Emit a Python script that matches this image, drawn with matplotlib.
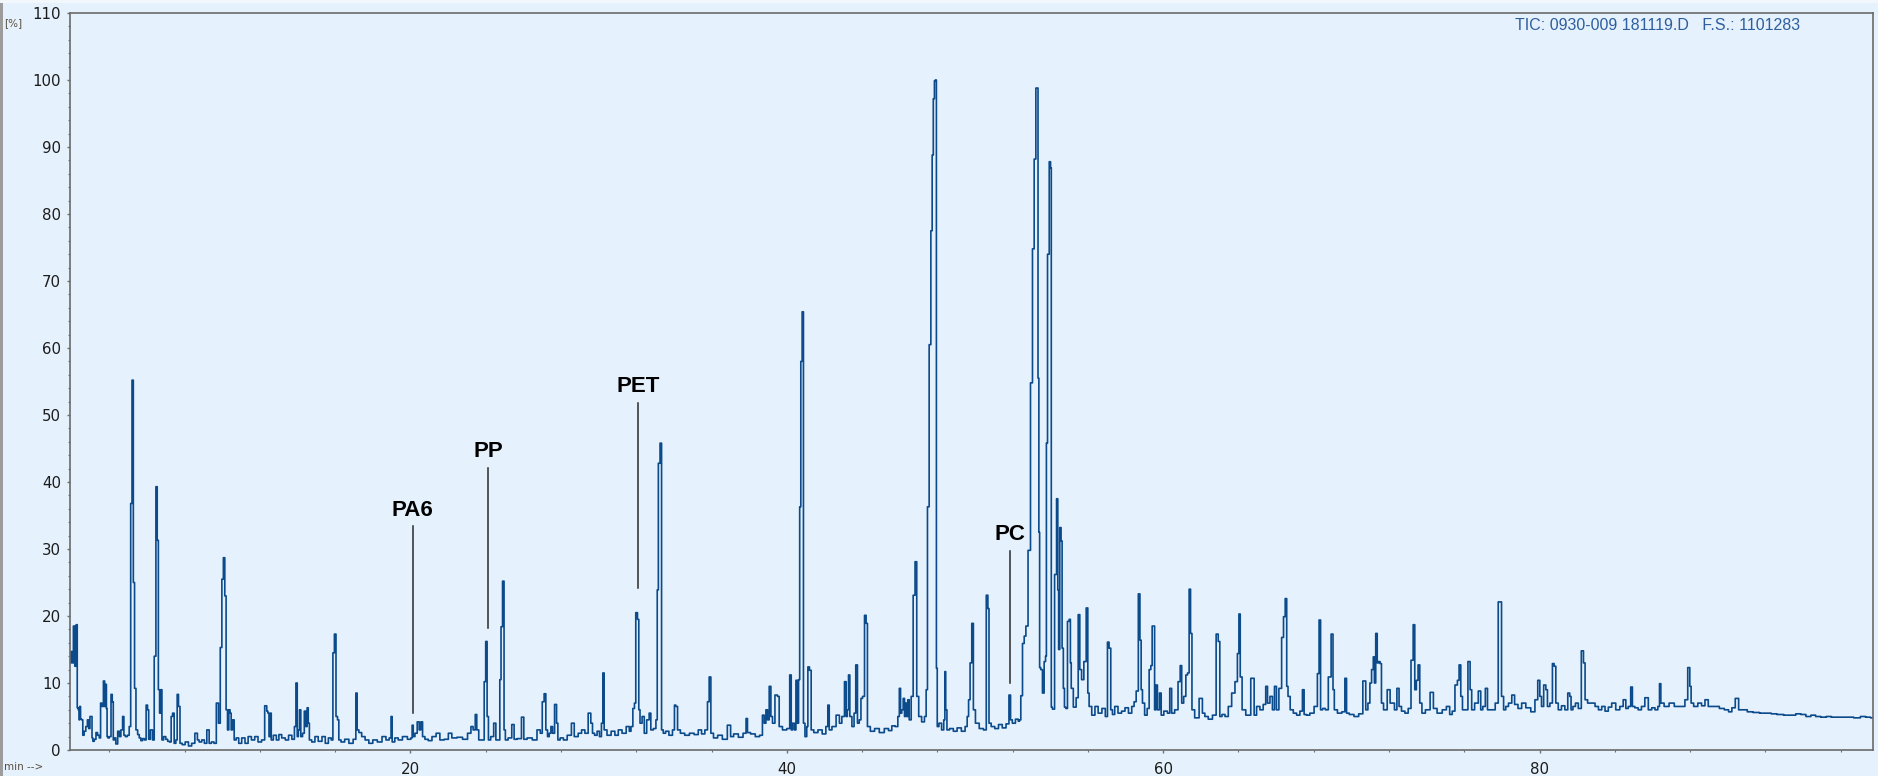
import matplotlib.pyplot as plt
from matplotlib.ticker import MultipleLocator
from matplotlib.patches import Rectangle

# TIC chromatogram, (retention time [min], relative abundance [%])
seg_02_19 = [
    (1.92, 13.0), (2.00, 14.7), (2.05, 13.0), (2.13, 18.5), (2.20, 12.5), (2.27, 18.7), (2.32, 6.3),
    (2.38, 6.0), (2.41, 4.5), (2.44, 6.5), (2.50, 4.6), (2.56, 4.5), (2.62, 2.2), (2.70, 2.8),
    (2.80, 3.5), (2.87, 4.5), (2.94, 3.2), (3.00, 5.0), (3.06, 5.0), (3.10, 1.8), (3.15, 1.3),
    (3.25, 1.6), (3.33, 2.6), (3.42, 2.2), (3.51, 1.8), (3.56, 7.0), (3.65, 6.5), (3.72, 10.3),
    (3.78, 6.5), (3.83, 9.8), (3.86, 6.2), (3.90, 2.0), (3.95, 1.8), (4.05, 2.0), (4.13, 8.3),
    (4.18, 7.2), (4.24, 1.5), (4.30, 1.8), (4.39, 0.9), (4.50, 2.8), (4.57, 2.0), (4.66, 3.0),
    (4.75, 5.0), (4.80, 2.2), (4.90, 2.0), (5.01, 2.2), (5.10, 3.5), (5.17, 36.8), (5.24, 55.2),
    (5.31, 25.0), (5.37, 9.2), (5.46, 3.0), (5.55, 2.3), (5.63, 1.8), (5.72, 1.4), (5.81, 1.7),
    (5.92, 1.5), (5.99, 6.7), (6.07, 6.0), (6.11, 1.6), (6.25, 3.0), (6.34, 1.5), (6.43, 14.0),
    (6.52, 39.3), (6.57, 31.3), (6.64, 9.0), (6.70, 5.5), (6.77, 9.0), (6.82, 1.5), (6.95, 2.0),
    (7.05, 1.6), (7.15, 1.3), (7.25, 1.2), (7.32, 5.0), (7.40, 5.5), (7.49, 1.0), (7.58, 1.5),
    (7.63, 8.3), (7.72, 6.5), (7.79, 1.0), (7.95, 0.8), (8.11, 1.2), (8.30, 0.6), (8.45, 1.0),
    (8.64, 2.5), (8.72, 1.5), (8.82, 1.2), (9.00, 1.5), (9.10, 1.0), (9.26, 3.0), (9.35, 1.0),
    (9.50, 1.2), (9.62, 1.0), (9.75, 7.0), (9.85, 4.0), (9.94, 15.3), (10.02, 25.5), (10.10, 28.7),
    (10.17, 23.0), (10.24, 6.0), (10.32, 3.0), (10.38, 6.0), (10.45, 5.5), (10.50, 3.0), (10.59, 4.5),
    (10.68, 1.5), (10.80, 1.8), (10.95, 1.0), (11.12, 1.8), (11.30, 1.0), (11.45, 2.0), (11.65, 1.5),
    (11.80, 2.0), (12.00, 1.2), (12.18, 1.5), (12.33, 6.6), (12.40, 5.8), (12.45, 5.5), (12.52, 2.0),
    (12.58, 5.5), (12.63, 1.5), (12.80, 2.2), (12.95, 1.5), (13.07, 2.3), (13.25, 1.8), (13.45, 1.5),
    (13.60, 2.2), (13.80, 1.6), (13.87, 3.5), (13.96, 10.0), (14.01, 2.0), (14.08, 3.0), (14.13, 6.0),
    (14.22, 2.0), (14.32, 2.5), (14.40, 5.8), (14.48, 3.5), (14.54, 6.3), (14.60, 4.0), (14.66, 1.5),
    (14.85, 1.2), (15.00, 2.0), (15.20, 1.3), (15.40, 2.0), (15.55, 1.0), (15.73, 1.8), (15.85, 1.5),
    (15.91, 14.5), (16.01, 17.3), (16.08, 5.0), (16.17, 4.5), (16.22, 1.5), (16.40, 1.2), (16.61, 1.6),
    (16.85, 1.0), (17.06, 1.6), (17.14, 8.5), (17.20, 3.0), (17.32, 2.6), (17.50, 2.0), (17.68, 1.5),
    (17.90, 1.0), (18.10, 1.5), (18.38, 1.2), (18.60, 2.0), (18.80, 1.5), (18.94, 1.8), (19.00, 5.0),
    (19.06, 1.2),
]
seg_19_35 = [
    (19.09, 1.2), (19.25, 1.8), (19.45, 1.5), (19.70, 2.0), (19.98, 1.6), (20.06, 1.8), (20.12, 3.7),
    (20.18, 2.0), (20.30, 2.5), (20.42, 4.2), (20.51, 3.0), (20.60, 4.2), (20.69, 2.0), (20.85, 1.6),
    (21.04, 1.4), (21.25, 2.0), (21.48, 2.5), (21.65, 1.5), (21.93, 1.6), (22.10, 2.5), (22.30, 1.8),
    (22.64, 1.9), (22.90, 1.6), (23.17, 2.5), (23.26, 3.5), (23.40, 3.0), (23.49, 5.3), (23.56, 3.0),
    (23.70, 1.5), (23.88, 1.5), (23.96, 10.2), (24.04, 16.2), (24.11, 5.0), (24.18, 1.5), (24.35, 2.0),
    (24.50, 4.0), (24.58, 1.5), (24.72, 1.5), (24.78, 10.5), (24.85, 18.4), (24.94, 25.2), (25.01, 3.0),
    (25.08, 1.5), (25.30, 1.8), (25.47, 3.8), (25.55, 1.6), (25.80, 1.7), (26.00, 4.9), (26.05, 1.6),
    (26.35, 1.8), (26.60, 1.5), (26.85, 3.0), (26.95, 2.5), (27.06, 7.2), (27.15, 8.4), (27.24, 3.0),
    (27.33, 2.0), (27.42, 2.5), (27.51, 3.5), (27.60, 2.5), (27.72, 6.8), (27.81, 4.0), (27.86, 1.5),
    (28.05, 1.8), (28.21, 1.5), (28.45, 2.2), (28.66, 4.0), (28.75, 2.0), (28.83, 2.0), (29.00, 2.5),
    (29.19, 3.0), (29.35, 2.5), (29.54, 5.5), (29.63, 4.0), (29.72, 2.5), (29.85, 2.2), (29.99, 2.8),
    (30.10, 2.0), (30.20, 4.0), (30.25, 11.5), (30.34, 3.0), (30.55, 2.2), (30.78, 2.8), (30.95, 2.2),
    (31.14, 3.0), (31.35, 2.5), (31.58, 3.5), (31.68, 2.8), (31.76, 3.5), (31.88, 6.2), (31.93, 7.0),
    (32.02, 20.5), (32.11, 19.5), (32.16, 6.0), (32.24, 4.0), (32.38, 5.0), (32.47, 2.5), (32.64, 4.5),
    (32.73, 5.5), (32.82, 3.0), (33.00, 3.2), (33.09, 4.5), (33.14, 23.9), (33.21, 42.8), (33.32, 45.8),
    (33.37, 3.0), (33.50, 2.5), (33.62, 2.8), (33.85, 2.2), (34.00, 3.0), (34.06, 6.7), (34.15, 6.5),
    (34.24, 3.0), (34.45, 2.5), (34.70, 2.2), (34.95, 2.5), (35.20, 2.3),
]
seg_35_47 = [
    (35.39, 3.0), (35.55, 2.4), (35.74, 3.0), (35.83, 7.2), (35.92, 10.9), (36.01, 2.5), (36.20, 1.8),
    (36.45, 2.2), (36.70, 1.6), (36.98, 3.7), (37.05, 2.0), (37.30, 2.4), (37.55, 1.9), (37.80, 2.5),
    (37.87, 4.7), (37.95, 2.6), (38.20, 2.4), (38.45, 2.0), (38.66, 2.2), (38.75, 5.2), (38.85, 4.0),
    (38.93, 6.0), (39.02, 4.5), (39.11, 9.5), (39.20, 5.0), (39.28, 4.0), (39.46, 8.2), (39.55, 8.0),
    (39.64, 3.5), (39.90, 3.0), (40.10, 3.2), (40.21, 11.2), (40.26, 3.0), (40.35, 4.0), (40.45, 3.0),
    (40.52, 10.4), (40.60, 4.0), (40.65, 10.5), (40.72, 36.3), (40.77, 58.0), (40.86, 65.4), (40.91, 4.0),
    (41.02, 2.0), (41.10, 3.5), (41.14, 12.4), (41.27, 11.9), (41.32, 3.0), (41.55, 2.6), (41.76, 3.0),
    (42.00, 2.4), (42.15, 3.5), (42.21, 6.7), (42.30, 3.0), (42.50, 3.5), (42.74, 5.2), (42.85, 4.0),
    (43.00, 5.0), (43.13, 10.2), (43.18, 5.0), (43.25, 6.0), (43.31, 11.2), (43.39, 5.0), (43.53, 3.5),
    (43.62, 5.5), (43.71, 12.7), (43.80, 4.0), (43.90, 4.5), (43.98, 7.7), (44.07, 8.0), (44.19, 20.1),
    (44.24, 18.9), (44.33, 3.5), (44.55, 2.8), (44.78, 3.2), (45.05, 2.6), (45.31, 3.2), (45.50, 2.9),
    (45.66, 3.6), (45.85, 3.5), (45.95, 5.0), (46.01, 9.2), (46.08, 5.5), (46.14, 6.0), (46.23, 7.7),
    (46.28, 5.0), (46.33, 7.0), (46.40, 5.0), (46.46, 7.5), (46.55, 4.5), (46.67, 8.0), (46.76, 23.1),
    (46.87, 28.1), (46.94, 8.0), (47.08, 5.0), (47.25, 4.2), (47.38, 5.0), (47.43, 9.0), (47.52, 36.3),
]
seg_47_57 = [
    (47.61, 60.5), (47.70, 77.5), (47.75, 88.8), (47.82, 97.2), (47.87, 99.9), (47.93, 100.0),
    (47.97, 12.2), (48.02, 3.5), (48.15, 4.0), (48.30, 3.0), (48.38, 4.5), (48.42, 11.7), (48.47, 6.0),
    (48.55, 3.0), (48.75, 3.2), (48.95, 2.8), (49.15, 3.3), (49.40, 2.8), (49.55, 3.5), (49.62, 5.0),
    (49.70, 7.5), (49.78, 13.0), (49.88, 18.9), (49.95, 6.0), (50.10, 4.0), (50.35, 3.2), (50.55, 3.0),
    (50.65, 23.1), (50.72, 21.1), (50.77, 4.0), (50.95, 3.5), (51.15, 3.2), (51.35, 3.8), (51.55, 3.3),
    (51.75, 3.9), (51.86, 8.2), (51.92, 4.5), (52.05, 4.0), (52.25, 4.6), (52.35, 4.3), (52.39, 4.5),
    (52.48, 8.1), (52.57, 15.9), (52.66, 17.0), (52.75, 18.5), (52.89, 29.8), (53.01, 54.8),
    (53.10, 74.8), (53.19, 88.2), (53.28, 98.8), (53.33, 98.8), (53.37, 55.5), (53.42, 32.5),
    (53.45, 12.3), (53.54, 12.0), (53.63, 8.5), (53.72, 13.2), (53.78, 14.0), (53.81, 45.8),
    (53.90, 74.0), (53.99, 87.8), (54.04, 86.9), (54.07, 6.4), (54.16, 6.1), (54.30, 26.2),
    (54.37, 37.5), (54.43, 23.9), (54.46, 15.0), (54.55, 33.2), (54.60, 31.2), (54.66, 15.2),
    (54.73, 9.2), (54.78, 6.4), (54.87, 6.2), (54.96, 19.2), (55.05, 19.5), (55.09, 13.0), (55.14, 9.2),
    (55.31, 6.4), (55.44, 7.8), (55.53, 20.2), (55.61, 12.0), (55.72, 10.5), (55.85, 13.2),
    (55.97, 21.2), (56.02, 8.5), (56.11, 6.5), (56.30, 5.2), (56.45, 6.5), (56.64, 5.5), (56.85, 6.2),
    (57.00, 5.0), (57.08, 16.1), (57.17, 15.2), (57.26, 6.0),
]
seg_57_78 = [
    (57.35, 5.3), (57.50, 6.5), (57.70, 5.5), (57.88, 5.8), (58.06, 6.3), (58.25, 5.5), (58.41, 6.5),
    (58.50, 7.2), (58.63, 8.8), (58.73, 23.3), (58.80, 16.4), (58.86, 9.0), (58.94, 7.0), (59.09, 5.2),
    (59.21, 6.2), (59.30, 12.0), (59.39, 12.6), (59.44, 18.5), (59.51, 18.5), (59.58, 6.0), (59.65, 9.7),
    (59.74, 6.0), (59.87, 8.5), (59.92, 5.2), (60.15, 5.8), (60.30, 5.5), (60.40, 9.2), (60.50, 5.5),
    (60.72, 6.0), (60.86, 10.2), (60.95, 12.6), (61.02, 7.0), (61.16, 8.0), (61.25, 11.2), (61.34, 11.5),
    (61.42, 24.0), (61.49, 17.4), (61.57, 6.0), (61.78, 4.8), (62.04, 7.7), (62.13, 5.5), (62.30, 5.0),
    (62.49, 4.6), (62.75, 5.2), (62.88, 17.3), (62.97, 16.2), (63.05, 5.0), (63.20, 5.3), (63.37, 5.0),
    (63.55, 6.5), (63.73, 8.5), (63.90, 10.2), (63.99, 14.4), (64.06, 20.3), (64.13, 10.9), (64.26, 6.0),
    (64.52, 5.2), (64.79, 10.7), (64.88, 5.2), (65.05, 6.5), (65.23, 6.0), (65.40, 6.8), (65.50, 9.5),
    (65.59, 7.0), (65.76, 8.0), (65.85, 6.0), (65.98, 9.5), (66.06, 6.0), (66.24, 9.2), (66.35, 16.8),
    (66.44, 19.9), (66.53, 22.6), (66.60, 9.5), (66.67, 8.0), (66.83, 6.0), (67.00, 5.5), (67.18, 5.2),
    (67.35, 5.8), (67.45, 9.0), (67.53, 5.3), (67.70, 5.2), (67.89, 5.5), (68.15, 6.5), (68.24, 11.4),
    (68.33, 19.4), (68.40, 6.0), (68.55, 6.2), (68.69, 6.0), (68.86, 10.9), (68.99, 17.3), (69.06, 9.0),
    (69.13, 6.0), (69.39, 5.5), (69.60, 5.7), (69.71, 10.7), (69.78, 5.5), (70.00, 5.3), (70.28, 5.0),
    (70.50, 5.4), (70.72, 10.3), (70.81, 6.0), (70.95, 7.0), (71.02, 10.0), (71.13, 12.0), (71.20, 13.9),
    (71.25, 10.0), (71.34, 17.4), (71.41, 13.0), (71.48, 13.2), (71.57, 12.9), (71.63, 7.0), (71.79, 6.0),
    (72.02, 9.0), (72.10, 7.0), (72.23, 7.0), (72.35, 6.0), (72.49, 9.2), (72.58, 6.5), (72.75, 5.8),
    (72.94, 5.5), (73.10, 6.2), (73.24, 13.4), (73.33, 18.7), (73.41, 9.0), (73.50, 10.4), (73.59, 12.7),
    (73.68, 7.0), (73.82, 5.5), (74.05, 6.0), (74.32, 8.6), (74.40, 6.2), (74.71, 5.5), (74.95, 6.0),
    (75.15, 6.5), (75.30, 5.3), (75.42, 5.8), (75.59, 9.7), (75.68, 10.4), (75.77, 12.7), (75.86, 8.0),
    (75.95, 6.0), (76.12, 6.0), (76.27, 13.2), (76.35, 9.0), (76.44, 6.0), (76.66, 7.0), (76.83, 8.8),
    (76.92, 6.0), (77.05, 6.5), (77.19, 9.2), (77.28, 6.0), (77.54, 6.0), (77.75, 7.0), (77.86, 22.1),
    (77.94, 22.1), (78.02, 8.0), (78.16, 6.0),
]
seg_78_98 = [
    (78.25, 6.5), (78.45, 7.0), (78.60, 8.2), (78.75, 6.8), (78.96, 6.2), (79.14, 7.0), (79.40, 6.3),
    (79.67, 5.7), (79.84, 7.5), (79.97, 10.4), (80.06, 8.0), (80.15, 6.5), (80.29, 9.7), (80.38, 9.0),
    (80.46, 6.5), (80.64, 7.0), (80.73, 12.9), (80.82, 12.5), (80.91, 7.0), (81.08, 6.0), (81.25, 6.6),
    (81.44, 6.0), (81.56, 8.5), (81.65, 8.0), (81.70, 6.0), (81.85, 6.5), (81.97, 7.0), (82.15, 6.2),
    (82.29, 14.8), (82.38, 13.0), (82.46, 7.5), (82.65, 7.0), (82.85, 7.0), (83.05, 6.5), (83.21, 6.0),
    (83.40, 6.5), (83.56, 5.8), (83.75, 6.4), (83.92, 7.0), (84.18, 6.0), (84.35, 6.5), (84.54, 7.5),
    (84.63, 6.2), (84.80, 6.5), (84.89, 9.4), (84.98, 6.5), (85.15, 6.3), (85.33, 6.0), (85.50, 6.5),
    (85.69, 7.8), (85.87, 6.0), (86.05, 6.3), (86.22, 6.0), (86.35, 6.5), (86.40, 9.9), (86.49, 7.0),
    (86.75, 6.5), (87.02, 7.0), (87.30, 6.5), (87.64, 6.5), (87.81, 7.5), (87.94, 12.3), (88.03, 9.5),
    (88.08, 7.0), (88.30, 6.5), (88.52, 7.0), (88.70, 6.6), (88.88, 7.5), (89.05, 6.5), (89.41, 6.5),
    (89.70, 6.2), (89.94, 6.0), (90.15, 5.7), (90.29, 6.3), (90.51, 7.7), (90.65, 6.0), (90.90, 6.0),
    (91.18, 5.7), (91.50, 5.6), (91.89, 5.5), (92.20, 5.5), (92.42, 5.4), (92.80, 5.3), (93.13, 5.2),
    (93.48, 5.2), (93.75, 5.4), (94.01, 5.3), (94.30, 5.0), (94.54, 5.2), (94.80, 5.0), (95.08, 4.9),
    (95.40, 5.0), (95.61, 4.9), (96.00, 4.9), (96.49, 4.9), (96.90, 4.8), (97.20, 5.0), (97.45, 4.9),
    (97.73, 4.8),
]

# polymer markers: name, marker time, line bottom, line top
markers = [("PA6", 20.12, 5.5, 33.4), ("PP", 24.12, 18.2, 42.1),
           ("PET", 32.08, 24.2, 51.8), ("PC", 51.86, 10.0, 29.7)]

BG = "#E5F1FC"
LINE = "#0B4A8B"

segments = [seg_02_19, seg_19_35, seg_35_47, seg_47_57, seg_57_78, seg_78_98]
t = [p[0] for s in segments for p in s]
v = [p[1] for s in segments for p in s]

W, H = 1878, 776
fig = plt.figure(figsize=(W / 100, H / 100), dpi=100, facecolor=BG)
ax = fig.add_axes([70 / W, 26 / H, (1873 - 70) / W, (750 - 13) / H])
ax.set_facecolor(BG)

# stepped trace like the instrument software draws it
ax.plot(t, v, color=LINE, lw=1.2, drawstyle="steps-mid")

for name, x, y0, y1 in markers:
    ax.plot([x, x], [y0, y1], color="#2a2a2a", lw=1.1)
    ax.text(x, y1 + 2.4, name, ha="center", va="center", fontsize=16,
            fontweight="bold", family="Liberation Sans", color="black")

ax.set_xlim(1.91, 97.72)
ax.set_ylim(0, 110)

ax.xaxis.set_major_locator(MultipleLocator(20))
ax.xaxis.set_minor_locator(MultipleLocator(4))
ax.yaxis.set_major_locator(MultipleLocator(10))
ax.yaxis.set_minor_locator(MultipleLocator(2))
ax.tick_params(axis="both", which="major", direction="out", length=2.5, width=1,
               color="#707070", labelsize=10.8, labelcolor="#1c1c1c")
ax.tick_params(axis="both", which="minor", direction="out", length=1.5, width=0.8,
               color="#707070")
ax.tick_params(axis="x", which="major", pad=6.5)
ax.tick_params(axis="y", which="major", pad=4)

for side, sp in ax.spines.items():
    sp.set_color("#6a6a6a")
    sp.set_linewidth(1.2)

fig.text(1515 / W, 1 - 25 / H, "TIC: 0930-009 181119.D   F.S.: 1101283",
         ha="left", va="center", fontsize=11.5, family="Liberation Sans", color="#2E5E9E")
fig.text(4 / W, 1 - 23 / H, "[%]", ha="left", va="center", fontsize=7.5, color="#5a5040")
fig.text(4 / W, 1 - 767 / H, "min -->", ha="left", va="center", fontsize=7.5, color="#5a5040")

# window edge
fig.add_artist(Rectangle((0, 0), 3 / W, 1, transform=fig.transFigure, color="#9c9c9c", lw=0))
fig.add_artist(Rectangle((0, 1 - 3 / H), 1, 3 / H, transform=fig.transFigure, color="#F2F7FC", lw=0))

fig.savefig("out.png", dpi=100, facecolor=BG)
